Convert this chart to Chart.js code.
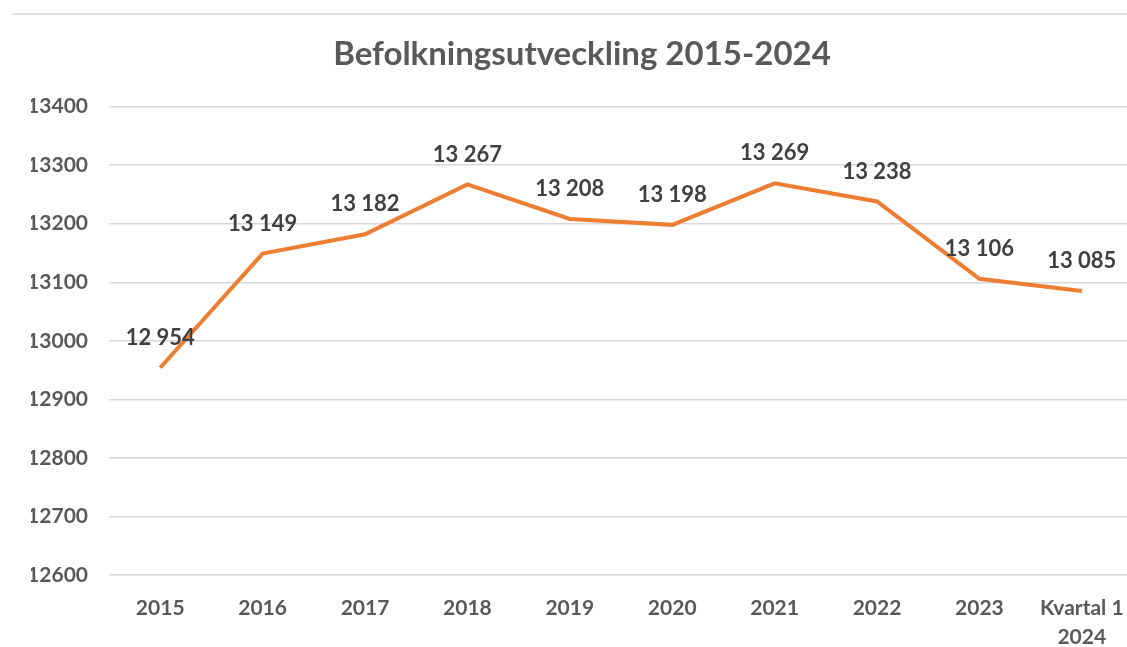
<!DOCTYPE html>
<html>
<head>
<meta charset="utf-8">
<script src="https://cdn.jsdelivr.net/npm/chart.js@4/dist/chart.umd.min.js"></script>
<style>
    html, body { margin: 0; padding: 0; background: #fff; overflow: hidden; }
    #wrap { position: relative; width: 1164px; height: 647px; }
    #topline { position: absolute; left: 12px; right: 0; top: 13px; height: 0; border-top: 2px solid #e0e0e0; }
</style>
</head>
<body>
<div id="wrap">
    <div id="topline"></div>
    <canvas id="befolkning"></canvas>
</div>
<script>
// befolkning per år
var kategorier = ['2015', '2016', '2017', '2018', '2019', '2020', '2021', '2022', '2023', ['Kvartal 1', '2024']];
var befolkning = [12954, 13149, 13182, 13267, 13208, 13198, 13269, 13238, 13106, 13085];
var yMin = 12600;
var yMax = 13400;
var ySteg = 100;
var titel = 'Befolkningsutveckling 2015-2024';

function formatTal(v) {
    return String(v).replace(/\B(?=(\d{3})+(?!\d))/g, ' ');
}

// egna dataetiketter ovanför punkterna
var etiketter = {
    id: 'etiketter',
    afterDatasetsDraw: function(chart) {
        var ctx = chart.ctx;
        var meta = chart.getDatasetMeta(0);
        ctx.save();
        ctx.font = 'bold 22px Lato';
        ctx.fillStyle = '#404040';
        ctx.textAlign = 'center';
        ctx.textBaseline = 'middle';
        meta.data.forEach(function(p, i) {
            ctx.fillText(formatTal(chart.data.datasets[0].data[i]), p.x, p.y - 30);
        });
        ctx.restore();
    }
};

var chart = new Chart(document.getElementById('befolkning').getContext('2d'), {
    type: 'line',
    data: {
        labels: kategorier,
        datasets: [{
            data: befolkning,
            borderColor: '#ED7D31',
            borderWidth: 4,
            pointRadius: 0,
            tension: 0,
            fill: false
        }]
    },
    plugins: [etiketter],
    options: {
        responsive: true,
        maintainAspectRatio: false,
        animation: false,
        layout: { padding: { left: 31, right: 31, top: 0, bottom: 0 } },
        plugins: {
            legend: { display: false },
            tooltip: { enabled: false },
            title: {
                display: true,
                text: titel,
                color: '#595959',
                font: { family: 'Lato', size: 33, weight: 'bold' },
                padding: { top: 35, bottom: 32 }
            }
        },
        scales: {
            x: {
                offset: true,
                grid: { display: false, drawTicks: false },
                border: { display: false },
                ticks: {
                    color: '#595959',
                    font: { family: 'Lato', size: 21, weight: 'bold', lineHeight: 1.38 },
                    padding: 19,
                    maxRotation: 0,
                    autoSkip: false
                },
                afterFit: function(scale) { scale.height = 72; }
            },
            y: {
                min: yMin,
                max: yMax,
                grid: { color: '#d9d9d9', lineWidth: 1.5, drawTicks: false },
                border: { display: false },
                ticks: {
                    stepSize: ySteg,
                    color: '#595959',
                    font: { family: 'Lato', size: 21, weight: 'bold' },
                    padding: 21,
                    callback: function(v) { return String(v); }
                },
                afterFit: function(scale) { scale.width = 78; }
            }
        }
    }
});
</script>
</body>
</html>
